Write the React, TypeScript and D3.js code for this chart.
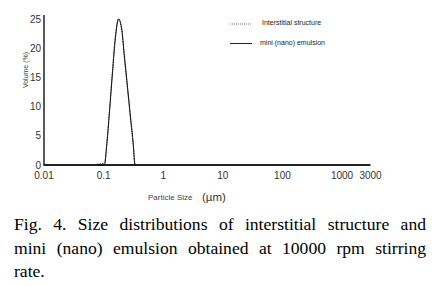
import React from "react";
import * as d3 from "d3";

const sizes = [0.0708, 0.0794, 0.0891, 0.1, 0.105, 0.112, 0.126, 0.141, 0.158, 0.178, 0.2, 0.224, 0.251, 0.282, 0.316, 0.335, 0.355];
const interstitial = [0, 0.15, 0.2, 0.3, 0.6, 3.2, 9.6, 16.2, 22.2, 25, 23.3, 18.2, 13.2, 8.0, 3.1, 0.3, 0];
const emulsion = [0, 0, 0, 0, 0.2, 3.0, 9.3, 15.8, 21.8, 25, 23.5, 18.5, 13.5, 8.3, 3.3, 0, 0];

const xTickValues = [0.01, 0.1, 1, 10, 100, 1000, 3000];
const xTickLabels = ["0.01", "0.1", "1", "10", "100", "1000", "3000"];
const yTickValues = [0, 5, 10, 15, 20, 25];

const seriesNames = ["Interstitial structure", "mini (nano) emulsion"];
const captionLines = [
  "Fig. 4. Size distributions of interstitial structure and",
  "mini (nano) emulsion obtained at 10000 rpm stirring",
  "rate.",
];

export default function App() {
  const W = 439, H = 286;
  const x = d3.scaleLog().domain([0.01, 3000]).range([44, 370.5]);
  const y = d3.scaleLinear().domain([0, 25]).range([165, 19]);
  const line = d3
    .line<[number, number]>()
    .x((d) => x(d[0]))
    .y((d) => y(d[1]))
    .curve(d3.curveMonotoneX);
  const dInter = line(sizes.map((s, i) => [s, interstitial[i]] as [number, number])) || "";
  const dEmul = line(sizes.map((s, i) => [s, emulsion[i]] as [number, number])) || "";
  const sans = "'Liberation Sans', Arial, sans-serif";
  return (
    <svg width={W} height={H} style={{ position: "absolute", left: 0, top: 0, background: "#fff" }}>
      <rect x={0} y={0} width={W} height={H} fill="#fff" />
      {/* y axis */}
      <line x1={44} x2={44} y1={15} y2={165.5} stroke="#222" strokeWidth={1.5} />
      {yTickValues.map((v) => (
        <text key={v} x={41} y={y(v)} dy="0.35em" textAnchor="end" fontFamily={sans} fontSize={10} fill="#333">
          {v}
        </text>
      ))}
      <text
        transform={`translate(26,70) rotate(-90)`}
        textAnchor="middle"
        dy="0.35em"
        fontFamily={sans}
        fontSize={7}
        fill="#444"
      >
        Volume (%)
      </text>
      {/* x axis */}
      <line x1={43.5} x2={370.5} y1={165} y2={165} stroke="#222" strokeWidth={2} />
      {xTickValues.map((v, i) => (
        <text key={v} x={x(v)} y={175} dy="0.35em" textAnchor="middle" fontFamily={sans} fontSize={10} fill="#333">
          {xTickLabels[i]}
        </text>
      ))}
      <text x={148} y={197} dy="0.35em" fontFamily={sans} fontSize={8} fill="#444">
        Particle Size
      </text>
      <text x={202} y={197} dy="0.35em" fontFamily={sans} fontSize={11.5} fill="#3a3430">
        (µm)
      </text>
      {/* series */}
      <path d={dInter} fill="none" stroke="#333" strokeWidth={1} strokeDasharray="1.5,1" />
      <path d={dEmul} fill="none" stroke="#111" strokeWidth={1} />
      {/* legend */}
      <line x1={230} x2={251} y1={24} y2={24} stroke="#555" strokeWidth={0.8} strokeDasharray="1,1" />
      <text x={262} y={22.5} dy="0.35em" fontFamily={sans} fontSize={7} fill="#222">
        {seriesNames[0]}
      </text>
      <line x1={230} x2={252} y1={43.5} y2={43.5} stroke="#222" strokeWidth={1} />
      <text x={260} y={43} dy="0.35em" fontFamily={sans} fontSize={7} fill="#222">
        {seriesNames[1]}
      </text>
      {/* caption */}
      <foreignObject x={14} y={213} width={412} height={75}>
        <div
          style={{
            fontFamily: "'Liberation Serif', 'Times New Roman', serif",
            fontSize: "17.6px",
            lineHeight: "23.5px",
            color: "#000",
          }}
        >
          {captionLines.map((l, i) => (
            <div
              key={i}
              style={{
                whiteSpace: "nowrap",
                textAlign: i < captionLines.length - 1 ? "justify" : "left",
                textAlignLast: i < captionLines.length - 1 ? "justify" : "left",
              }}
            >
              {l}
            </div>
          ))}
        </div>
      </foreignObject>
    </svg>
  );
}
